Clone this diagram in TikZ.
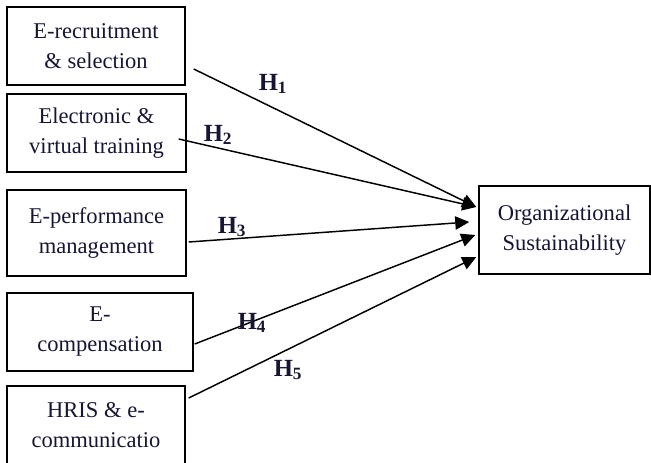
\documentclass[tikz,border=0pt]{standalone}
\usepackage{fontspec}
\setmainfont{Liberation Serif}
\usetikzlibrary{arrows.meta}
\definecolor{inkc}{RGB}{22,22,52}

\begin{document}
\begin{tikzpicture}[x=0.75pt,y=0.75pt,
	box/.style={draw,line width=1.1pt,align=center,inner sep=0pt,text=inkc,
		minimum width=133.5pt,minimum height=58.5pt,
		font=\fontsize{16.9}{22.5}\selectfont},
	hyp/.style={inner sep=0pt,text=inkc,font=\fontsize{18.5}{20}\selectfont\bfseries},
	arr/.style={line width=1.1pt,-{Triangle[length=10.5pt,width=10pt]}}]
\useasboundingbox (0,0) rectangle (651,462);
% the five practices
\node[box] (b1) at (96,416) {E-recruitment\\\& selection};
\node[box,minimum width=134.25pt] (b2) at (96.5,329) {Electronic \&\\virtual training};
\node[box,minimum width=134.25pt,minimum height=64.5pt] (b3) at (96.5,229) {E-performance\\management};
\node[box,minimum width=139.5pt] (b4) at (100,130) {E-\\compensation};
\node[box] (b5) at (96,37) {HRIS \& e-\\communicatio};
% outcome
\node[box,minimum width=128.25pt,minimum height=66pt] (os) at (564.5,232) {Organizational\\Sustainability};
% hypotheses
\draw[arr] ([shift={(8,-23)}]b1.east) -- ([shift={(-2,23)}]os.west);
\draw[arr] ([shift={(-8,-6)}]b2.east) -- ([shift={(-2,23)}]os.west);
\draw[arr] ([shift={(2,-9)}]b3.east) -- ([shift={(-9,8)}]os.west);
\draw[arr] ([shift={(1,-12)}]b4.east) -- ([shift={(-3,-5)}]os.west);
\draw[arr] ([shift={(3,27)}]b5.east) -- ([shift={(-2,-27)}]os.west);
\node[hyp] (h1) at (273,378) {H\textsubscript{1}};
\node[hyp] (h2) at (218,327) {H\textsubscript{2}};
\node[hyp] (h3) at (232,235) {H\textsubscript{3}};
\node[hyp] (h4) at (252,139) {H\textsubscript{4}};
\node[hyp] (h5) at (288,92) {H\textsubscript{5}};
\end{tikzpicture}
\end{document}
